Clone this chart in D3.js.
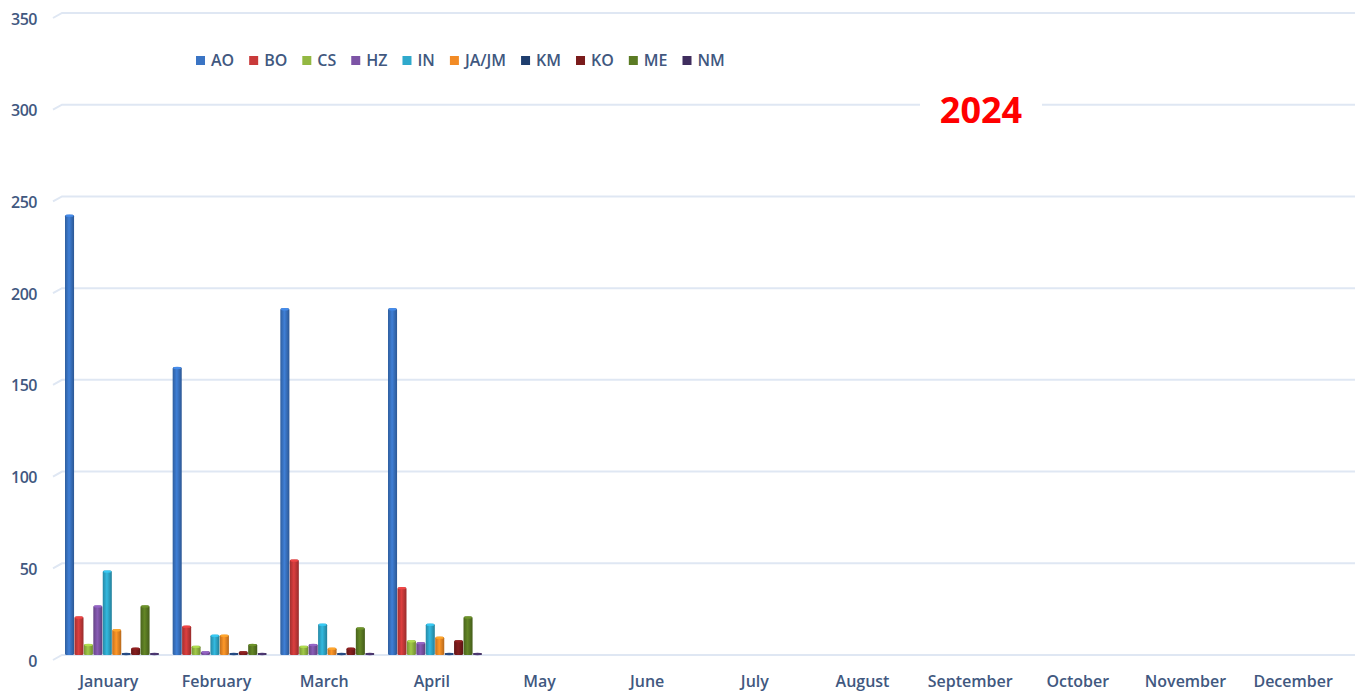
<!DOCTYPE html>
<html>
<head>
<meta charset="utf-8">
<script src="https://cdn.jsdelivr.net/npm/d3@7"></script>
<style>
  body { margin: 0; background: #fff; }
  svg { display: block; font-family: "Open Sans", "Noto Sans", sans-serif; }
</style>
</head>
<body>
<div id="chart"></div>
<script>
// Monthly counts per group, 2024 (only Jan-Apr have data)
const months = ["January", "February", "March", "April", "May", "June",
  "July", "August", "September", "October", "November", "December"];
const seriesNames = ["AO", "BO", "CS", "HZ", "IN", "JA/JM", "KM", "KO", "ME", "NM"];
const seriesColors = ["#3a74c4", "#c93a3a", "#93b842", "#7d54a6", "#2fa9cc",
  "#f28b25", "#1f3e6e", "#7a1b1b", "#5b7b23", "#3f2d5e"];
const yTicks = [0, 50, 100, 150, 200, 250, 300, 350];

const valAO = [240, 157, 189, 189];
const valBO = [21, 16, 52, 37];
const valCS = [6, 5, 5, 8];
const valHZ = [27, 2, 6, 7];
const valIN = [46, 11, 17, 17];
const valJA = [14, 11, 4, 10];
const valKM = [0, 0, 0, 0];
const valKO = [4, 2, 4, 8];
const valME = [27, 6, 15, 21];
const valNM = [1, 0, 0, 0];

const allValues = [valAO, valBO, valCS, valHZ, valIN, valJA, valKM, valKO, valME, valNM];

const width = 1364, height = 695;
const textColor = "#41587f";
const svg = d3.select("#chart").append("svg")
  .attr("width", width)
  .attr("height", height);

const defs = svg.append("defs");
seriesColors.forEach((c, i) => {
  const g = defs.append("linearGradient")
    .attr("id", "grad" + i)
    .attr("x1", "0%").attr("x2", "100%").attr("y1", "0%").attr("y2", "0%");
  g.append("stop").attr("offset", "0%").attr("stop-color", d3.color(c).darker(0.6));
  g.append("stop").attr("offset", "45%").attr("stop-color", d3.color(c).brighter(0.25));
  g.append("stop").attr("offset", "100%").attr("stop-color", d3.color(c).darker(0.8));
});

const x = d3.scaleBand().domain(months).range([55, 1347]);
const x1 = d3.scaleBand().domain(seriesNames).range([10, 104]).paddingInner(0.04);
const y = d3.scaleLinear().domain([0, 350]).range([655, 13]);

// gridlines (back wall with a little 3D slant)
svg.append("g").selectAll("path")
  .data(yTicks)
  .join("path")
  .attr("d", d => `M53,${y(d) + 5}L62,${y(d)}L1355,${y(d)}`)
  .attr("fill", "none")
  .attr("stroke", "#dfe7f3")
  .attr("stroke-width", 2);

// y labels
svg.append("g").selectAll("text")
  .data(yTicks)
  .join("text")
  .attr("x", 37)
  .attr("y", d => y(d) + 6)
  .attr("dy", "0.35em")
  .attr("text-anchor", "end")
  .attr("font-size", 16)
  .attr("font-weight", 600)
  .attr("letter-spacing", -0.5)
  .attr("fill", textColor)
  .text(d => d);

// x labels
svg.append("g").selectAll("text")
  .data(months)
  .join("text")
  .attr("x", d => x(d) + x.bandwidth() / 2)
  .attr("y", 681)
  .attr("dy", "0.35em")
  .attr("text-anchor", "middle")
  .attr("font-size", 16)
  .attr("font-weight", 600)
  .attr("fill", textColor)
  .text(d => d);

// bars
const barData = [];
seriesNames.forEach((s, si) => {
  allValues[si].forEach((v, mi) => {
    if (v != null) barData.push({ series: s, si: si, month: months[mi], value: v });
  });
});

const bars = svg.append("g").selectAll("g")
  .data(barData)
  .join("g")
  .attr("transform", d => `translate(${x(d.month) + x1(d.series)},0)`);

bars.append("rect")
  .attr("x", 0)
  .attr("width", x1.bandwidth())
  .attr("y", d => Math.min(y(d.value), y(0) - 2))
  .attr("height", d => Math.max(y(0) - y(d.value), 2))
  .attr("rx", 1.5)
  .attr("fill", d => `url(#grad${d.si})`);

bars.append("ellipse")
  .attr("cx", x1.bandwidth() / 2)
  .attr("cy", d => Math.min(y(d.value), y(0) - 2) + 1)
  .attr("rx", x1.bandwidth() / 2 - 0.5)
  .attr("ry", 1.2)
  .attr("fill", d => d3.color(seriesColors[d.si]).brighter(0.5));

// legend
const legend = svg.append("g").attr("transform", "translate(196,60)");
let lx = 0;
seriesNames.forEach((s, i) => {
  const item = legend.append("g").attr("transform", `translate(${lx},0)`);
  item.append("rect")
    .attr("x", 0).attr("y", -4)
    .attr("width", 9).attr("height", 9)
    .attr("fill", seriesColors[i]);
  const t = item.append("text")
    .attr("x", 15)
    .attr("y", 0.5)
    .attr("dy", "0.35em")
    .attr("font-size", 16)
    .attr("font-weight", 600)
    .attr("fill", textColor)
    .text(s);
  lx += 15 + t.node().getComputedTextLength() + 15;
});

// title with white box breaking the gridline
const title = svg.append("g");
title.append("rect")
  .attr("x", 920).attr("y", 88)
  .attr("width", 122).attr("height", 44)
  .attr("fill", "#fff");
title.append("text")
  .attr("x", 981)
  .attr("y", 123)
  .attr("text-anchor", "middle")
  .attr("font-size", 36)
  .attr("font-weight", "bold")
  .attr("fill", "#ff0000")
  .text("2024");
</script>
</body>
</html>
